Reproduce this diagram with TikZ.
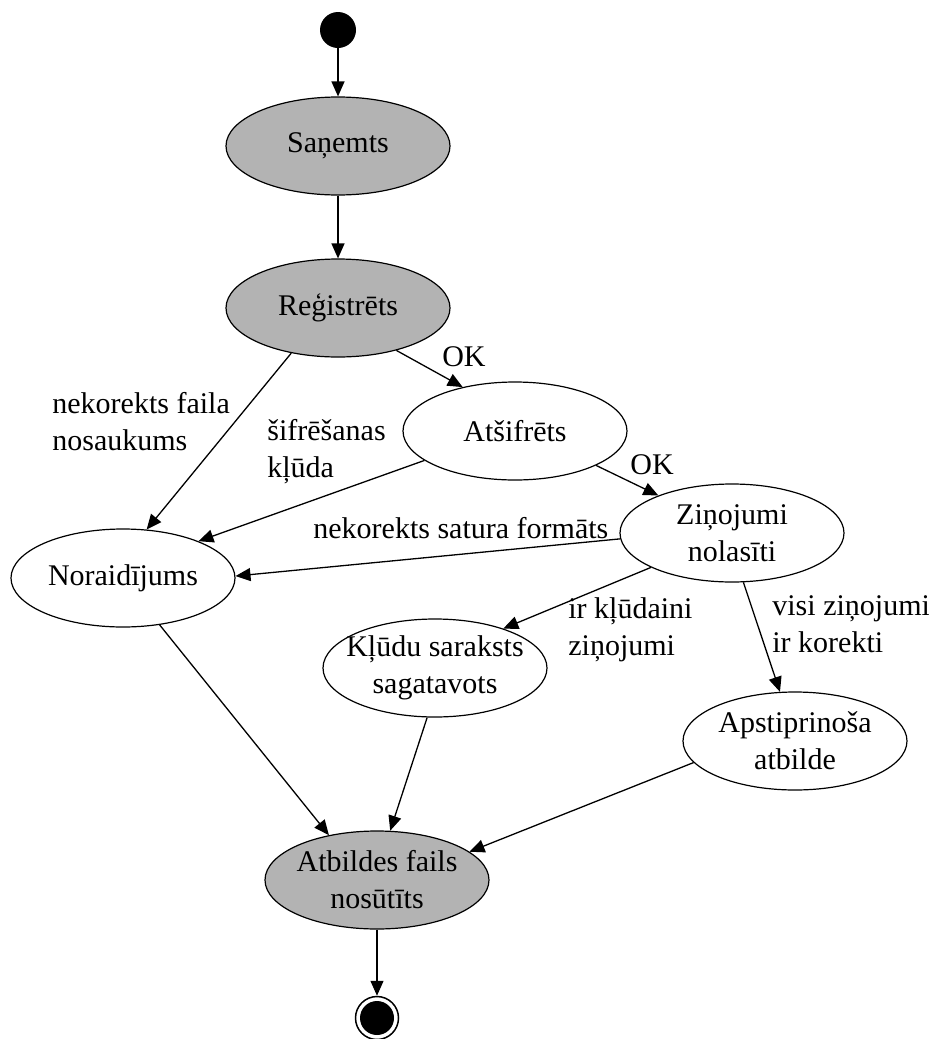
\documentclass[tikz,border=0pt]{standalone}
\usepackage{fontspec}
\setmainfont{Liberation Serif}
\usetikzlibrary{arrows.meta,shapes.geometric}
\definecolor{stategray}{RGB}{179,179,179}
\begin{document}
\begin{tikzpicture}[x=0.5pt,y=-0.5pt,
  every node/.style={font=\fontsize{15}{18.5}\selectfont},
  st/.style={ellipse, draw, line width=0.6pt, minimum width=112pt, minimum height=49pt, inner sep=0pt},
  gst/.style={st, fill=stategray},
  txt/.style={align=center, inner sep=0pt},
  lbl/.style={align=left, anchor=west, inner sep=0pt},
  tr/.style={draw, line width=0.65pt, -{Triangle[length=7.5pt,width=6.5pt]}},
]
\useasboundingbox (0,0) rectangle (928,1039);

% initial and final pseudo-states
\node[circle, fill=black, minimum size=18pt, inner sep=0pt] (init) at (338,30) {};
\node[circle, draw, line width=0.75pt, minimum size=21.5pt, inner sep=0pt] (fin) at (377,1018) {};
\fill (fin.center) circle (8.5pt);

% states
\node[gst] (san) at (338,146) {};
\node[txt] at (san) {Saņemts};
\node[gst] (reg) at (338,308) {};
\node[txt] at (reg) {Reģistrēts};
\node[st] (ats) at (515,431) {};
\node[txt] at (ats) {Atšifrēts};
\node[st] (zin) at (732,533) {};
\node[txt] at (zin) {Ziņojumi\\nolasīti};
\node[st] (nor) at (123,578) {};
\node[txt] at (nor) {Noraidījums};
\node[st] (klu) at (435,668) {};
\node[txt] at (klu) {Kļūdu saraksts\\sagatavots};
\node[st] (aps) at (795,741) {};
\node[txt] at (aps) {Apstiprinoša\\atbilde};
\node[gst] (atb) at (377,880) {};
\node[txt] at (atb) {Atbildes fails\\nosūtīts};

% transitions
\draw[tr] (init) -- (san);
\draw[tr] (san) -- (reg);
\draw[tr] (reg.224) -- (nor.64);
\draw[tr] (reg.324) -- (ats.140);
\draw[tr] (ats.198) -- (nor.26);
\draw[tr] (ats.337) -- (zin.153);
\draw[tr] (zin.183) -- (nor.1);
\draw[tr] (zin.203) -- (klu.30);
\draw[tr] (zin.283) -- (aps.107);
\draw[tr] (nor.308) -- (atb.137);
\draw[tr] (klu.261) -- (atb.75);
\draw[tr] (aps.192) -- (atb.17);
\draw[tr] (atb) -- (fin);

% transition labels
\node[inner sep=0pt] (okA) at (464,357) {OK};
\node[inner sep=0pt] (okB) at (652,465) {OK};
\node[lbl] (lNos) at (52,421.5) {nekorekts faila\\nosaukums};
\node[lbl] (lSif) at (267,451.5) {šifrēšanas\\kļūda};
\node[lbl] (lSat) at (313,528) {nekorekts satura formāts};
\node[lbl] (lKlu) at (568,630) {ir kļūdaini\\ziņojumi};
\node[lbl] (lVis) at (772,624) {visi ziņojumi\\ir korekti};
\end{tikzpicture}
\end{document}
